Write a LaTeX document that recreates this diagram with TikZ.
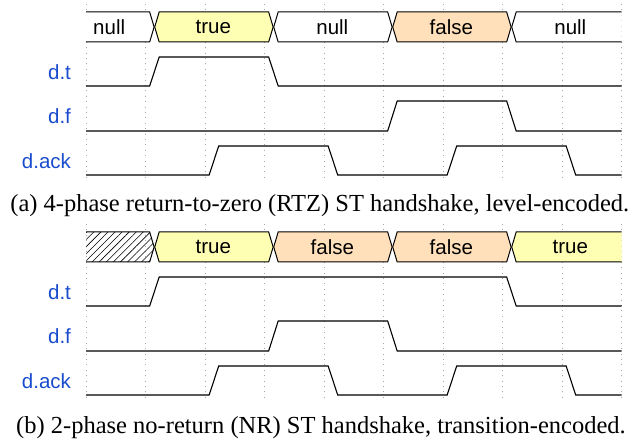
\documentclass[tikz,border=0pt]{standalone}
\usepackage{fontspec}
\setmainfont{Liberation Serif}
\setsansfont{Liberation Sans}
\usetikzlibrary{patterns.meta}

\definecolor{sigblue}{RGB}{25,75,205}
\definecolor{valtrue}{RGB}{255,255,180}
\definecolor{valfalse}{RGB}{255,224,186}

% one value on the data bus: #1 node name, #2 from, #3 to, #4 fill, #5 text, #6 top
\newcommand{\busbox}[6]{%
  \draw[busline, #4] (#2+0.155,#6+15) -- (#2+0.23,#6) -- (#3+0.07,#6)
    -- (#3+0.145,#6+15) -- (#3+0.07,#6+30) -- (#2+0.23,#6+30) -- cycle;
  \node (#1) [busname] at ({(#2+#3)/2+0.14},#6+15) {#5};
}

\begin{document}
\begin{tikzpicture}[x=59.5pt, y=-1pt,
    gridline/.style={gray!70, line width=0.7pt, dash pattern=on 0.8pt off 4.6pt},
    busline/.style={draw, line width=1pt, line join=miter},
    wave/.style={line width=1.1pt, line join=miter},
    busname/.style={font=\sffamily\fontsize{20.5}{24}\selectfont, inner sep=0},
    signame/.style={font=\sffamily\fontsize{20.5}{24}\selectfont, text=sigblue, inner sep=0, anchor=east},
    caption/.style={font=\fontsize{24.5}{28}\selectfont, inner sep=0}]
    \useasboundingbox (-86pt,0pt) rectangle (556pt,-446pt);

    % Grid
    \foreach \i in {0,...,9} {
        \draw[gridline] (\i,4) -- (\i,178);
        \draw[gridline] (\i,224) -- (\i,398);
    }

    % (a) level-encoded
    \begin{scope}
        \clip (0,0) rectangle (9,200);
        \busbox{nulla}{-0.5}{1}{fill=white}{null}{12}
        \busbox{truea}{1}{3}{fill=valtrue}{true}{12}
        \busbox{nullb}{3}{5}{fill=white}{null}{12}
        \busbox{falsea}{5}{7}{fill=valfalse}{false}{12}
        \busbox{nullc}{7}{9}{fill=white}{null}{12}
    \end{scope}
    \node (dta) [signame] at (-0.25,72) {d.t};
    \node (dfa) [signame] at (-0.25,116) {d.f};
    \node (acka) [signame] at (-0.25,161) {d.ack};
    \draw[wave] (0,86) -- (1.07,86) -- (1.23,57) -- (3.07,57) -- (3.23,86) -- (9,86);
    \draw[wave] (0,131) -- (5.07,131) -- (5.23,101) -- (7.07,101) -- (7.23,131) -- (9,131);
    \draw[wave] (0,175) -- (2.07,175) -- (2.23,146) -- (4.07,146) -- (4.23,175)
        -- (6.07,175) -- (6.23,146) -- (8.07,146) -- (8.23,175) -- (9,175);
    \node (capa) [caption] at (3.93,206) {(a) 4-phase return-to-zero (RTZ) ST handshake, level-encoded.};

    % (b) transition-encoded
    \begin{scope}
        \clip (0,220) rectangle (9,420);
        \busbox{none}{-0.5}{1}{pattern={Lines[angle=45, distance=5pt, line width=0.6pt]}}{}{232}
        \busbox{trueb}{1}{3}{fill=valtrue}{true}{232}
        \busbox{falseb}{3}{5}{fill=valfalse}{false}{232}
        \busbox{falsec}{5}{7}{fill=valfalse}{false}{232}
        \busbox{truec}{7}{9}{fill=valtrue}{true}{232}
    \end{scope}
    \node (dtb) [signame] at (-0.25,292) {d.t};
    \node (dfb) [signame] at (-0.25,336) {d.f};
    \node (ackb) [signame] at (-0.25,381) {d.ack};
    \draw[wave] (0,306) -- (1.07,306) -- (1.23,277) -- (7.07,277) -- (7.23,306) -- (9,306);
    \draw[wave] (0,351) -- (3.07,351) -- (3.23,321) -- (5.07,321) -- (5.23,351) -- (9,351);
    \draw[wave] (0,395) -- (2.07,395) -- (2.23,366) -- (4.07,366) -- (4.23,395)
        -- (6.07,395) -- (6.23,366) -- (8.07,366) -- (8.23,395) -- (9,395);
    \node (capb) [caption] at (3.95,428) {(b) 2-phase no-return (NR) ST handshake, transition-encoded.};
\end{tikzpicture}
\end{document}
